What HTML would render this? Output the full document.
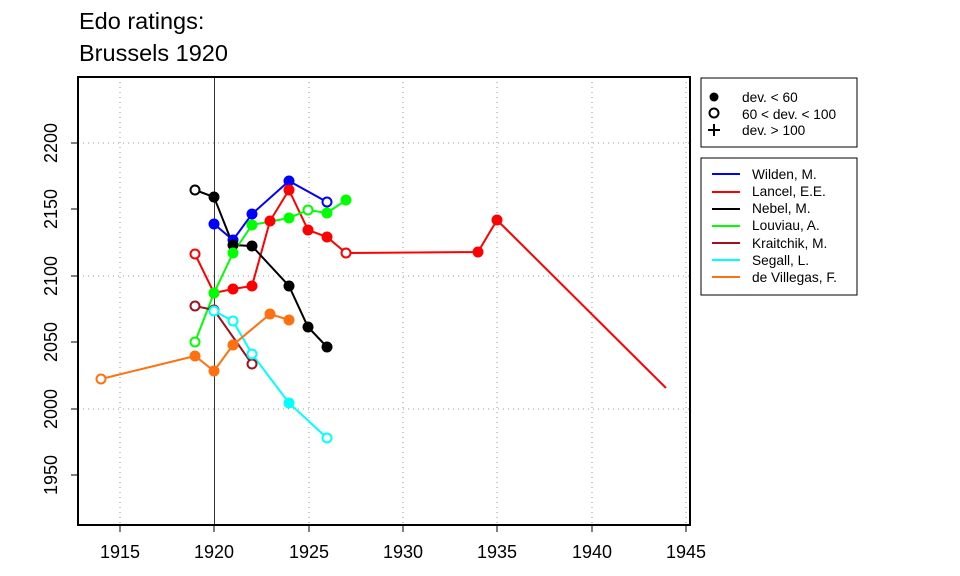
<!DOCTYPE html><html><head><style>body{margin:0;background:#fff}svg{display:block}text{font-family:"Liberation Sans",sans-serif}</style></head><body>
<svg width="960" height="576" viewBox="0 0 960 576" xmlns="http://www.w3.org/2000/svg">
<text x="79" y="29" font-size="23.5">Edo ratings:</text>
<text x="79" y="61" font-size="23.5">Brussels 1920</text>
<g stroke="#999" stroke-dasharray="1,4" stroke-width="1">
<line x1="120" y1="77" x2="120" y2="525"/><line x1="309" y1="77" x2="309" y2="525"/><line x1="403" y1="77" x2="403" y2="525"/><line x1="497" y1="77" x2="497" y2="525"/><line x1="592" y1="77" x2="592" y2="525"/><line x1="686" y1="77" x2="686" y2="525"/>
<line x1="78" y1="143" x2="690" y2="143"/><line x1="78" y1="276" x2="690" y2="276"/><line x1="78" y1="409" x2="690" y2="409"/>
</g>
<line x1="214.5" y1="77" x2="214.5" y2="525" stroke="#000" stroke-width="0.8"/>
<rect x="78" y="77" width="612" height="448" fill="none" stroke="#000" stroke-width="2"/>
<g stroke="#000"><line x1="120" y1="525" x2="120" y2="532"/><line x1="214" y1="525" x2="214" y2="532"/><line x1="309" y1="525" x2="309" y2="532"/><line x1="403" y1="525" x2="403" y2="532"/><line x1="497" y1="525" x2="497" y2="532"/><line x1="592" y1="525" x2="592" y2="532"/><line x1="686" y1="525" x2="686" y2="532"/>
<line x1="71" y1="143" x2="78" y2="143"/><line x1="71" y1="209" x2="78" y2="209"/><line x1="71" y1="276" x2="78" y2="276"/><line x1="71" y1="342" x2="78" y2="342"/><line x1="71" y1="409" x2="78" y2="409"/><line x1="71" y1="475" x2="78" y2="475"/></g>
<g font-size="18" text-anchor="middle">
<text x="120" y="558">1915</text><text x="214" y="558">1920</text><text x="309" y="558">1925</text><text x="403" y="558">1930</text><text x="497" y="558">1935</text><text x="592" y="558">1940</text><text x="686" y="558">1945</text>
<text transform="translate(57,143) rotate(-90)">2200</text><text transform="translate(57,209) rotate(-90)">2150</text><text transform="translate(57,276) rotate(-90)">2100</text><text transform="translate(57,342) rotate(-90)">2050</text><text transform="translate(57,409) rotate(-90)">2000</text><text transform="translate(57,475) rotate(-90)">1950</text>
</g>
<g fill="none" stroke-width="2">
<polyline stroke="#00f" points="214,224 233,240 252,214 289,181 327,202"/>
<polyline stroke="#f00" points="195,254 214,293 233,289 252,286 270,221 289,190 308,230 327,237 346,253 478,252 497,220 666,388"/>
<polyline stroke="#000" points="195,190 214,197 233,245 252,246 289,286 308,327 327,347"/>
<polyline stroke="#0f0" points="195,342 214,293 233,253 252,225 289,218 308,210 327,213 346,200"/>
<polyline stroke="#a01020" points="195,306 214,310 252,364"/>
<polyline stroke="#0ff" points="214,311 233,321 252,354 289,403 327,438"/>
<polyline stroke="#ff7010" points="101,379 195,356 214,371 233,345 270,314 289,320"/>
</g>
<g stroke-width="2">
<g stroke="#00f" fill="#00f"><circle cx="214" cy="224" r="4.5"/><circle cx="233" cy="240" r="4.5"/><circle cx="252" cy="214" r="4.5"/><circle cx="289" cy="181" r="4.5"/><circle cx="327" cy="202" r="4.5" fill="#fff"/></g>
<g stroke="#f00" fill="#f00"><circle cx="195" cy="254" r="4.5" fill="#fff"/><circle cx="214" cy="293" r="4.5"/><circle cx="233" cy="289" r="4.5"/><circle cx="252" cy="286" r="4.5"/><circle cx="270" cy="221" r="4.5"/><circle cx="289" cy="190" r="4.5"/><circle cx="308" cy="230" r="4.5"/><circle cx="327" cy="237" r="4.5"/><circle cx="346" cy="253" r="4.5" fill="#fff"/><circle cx="478" cy="252" r="4.5"/><circle cx="497" cy="220" r="4.5"/></g>
<g stroke="#000" fill="#000"><circle cx="195" cy="190" r="4.5" fill="#fff"/><circle cx="214" cy="197" r="4.5"/><circle cx="233" cy="245" r="4.5"/><circle cx="252" cy="246" r="4.5"/><circle cx="289" cy="286" r="4.5"/><circle cx="308" cy="327" r="4.5"/><circle cx="327" cy="347" r="4.5"/></g>
<g stroke="#0f0" fill="#0f0"><circle cx="195" cy="342" r="4.5" fill="#fff"/><circle cx="214" cy="293" r="4.5"/><circle cx="233" cy="253" r="4.5"/><circle cx="252" cy="225" r="4.5"/><circle cx="289" cy="218" r="4.5"/><circle cx="308" cy="210" r="4.5" fill="#fff"/><circle cx="327" cy="213" r="4.5"/><circle cx="346" cy="200" r="4.5"/></g>
<g stroke="#a01020" fill="#fff"><circle cx="195" cy="306" r="4.5"/><circle cx="214" cy="310" r="4.5"/><circle cx="252" cy="364" r="4.5"/></g>
<g stroke="#0ff" fill="#fff"><circle cx="214" cy="311" r="4.5"/><circle cx="233" cy="321" r="4.5"/><circle cx="252" cy="354" r="4.5"/><circle cx="289" cy="403" r="4.5" fill="#0ff"/><circle cx="327" cy="438" r="4.5"/></g>
<g stroke="#ff7010" fill="#ff7010"><circle cx="101" cy="379" r="4.5" fill="#fff"/><circle cx="195" cy="356" r="4.5"/><circle cx="214" cy="371" r="4.5"/><circle cx="233" cy="345" r="4.5"/><circle cx="270" cy="314" r="4.5"/><circle cx="289" cy="320" r="4.5"/></g>
</g>
<rect x="701" y="78" width="156" height="69" fill="none" stroke="#000" stroke-width="1"/>
<circle cx="714" cy="97" r="4.5" fill="#000"/><circle cx="714" cy="113" r="4.5" fill="none" stroke="#000" stroke-width="2"/>
<g stroke="#000" stroke-width="2"><line x1="708" y1="130" x2="720" y2="130"/><line x1="714" y1="124" x2="714" y2="136"/></g>
<g font-size="13.7"><text x="742" y="102">dev. &lt; 60</text><text x="742" y="119">60 &lt; dev. &lt; 100</text><text x="742" y="135">dev. &gt; 100</text></g>
<rect x="701" y="158" width="156" height="137" fill="none" stroke="#000" stroke-width="1"/>
<g stroke-width="2"><line x1="712" y1="174" x2="740" y2="174" stroke="#00f"/><line x1="712" y1="192" x2="740" y2="192" stroke="#f00"/><line x1="712" y1="209" x2="740" y2="209" stroke="#000"/><line x1="712" y1="226" x2="740" y2="226" stroke="#0f0"/><line x1="712" y1="243" x2="740" y2="243" stroke="#a01020"/><line x1="712" y1="260" x2="740" y2="260" stroke="#0ff"/><line x1="712" y1="277" x2="740" y2="277" stroke="#ff7010"/></g>
<g font-size="13.7"><text x="752" y="179">Wilden, M.</text><text x="752" y="196">Lancel, E.E.</text><text x="752" y="213">Nebel, M.</text><text x="752" y="230">Louviau, A.</text><text x="752" y="248">Kraitchik, M.</text><text x="752" y="265">Segall, L.</text><text x="752" y="282">de Villegas, F.</text></g>
</svg></body></html>
